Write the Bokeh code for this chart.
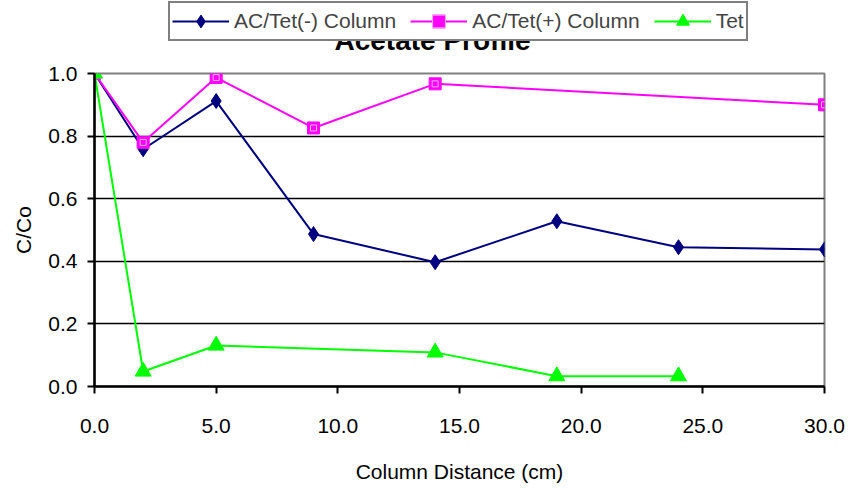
from bokeh.plotting import figure
from bokeh.layouts import column
from bokeh.models import Range1d, NumeralTickFormatter, Legend, LegendItem, Label, FixedTicker
from bokeh.embed import file_html
from bokeh.resources import INLINE

title_text = "Acetate Profile"
x_label = "Column Distance (cm)"
y_label = "C/Co"

names = ["AC/Tet(-) Column", "AC/Tet(+) Column", "Tet"]

x_minus = [0, 2, 5, 9, 14, 19, 24, 30]
y_minus = [1.0, 0.758, 0.912, 0.487, 0.397, 0.528, 0.445, 0.438]

x_plus = [0, 2, 5, 9, 14, 30]
y_plus = [1.0, 0.78, 0.987, 0.826, 0.967, 0.90]

x_tet = [0, 2, 5, 14, 19, 24]
y_tet = [1.0, 0.048, 0.131, 0.109, 0.033, 0.033]

x_ticks = [0, 5, 10, 15, 20, 25, 30]
y_ticks = [0.0, 0.2, 0.4, 0.6, 0.8, 1.0]

FONT = "Liberation Sans"
NAVY, MAGENTA, LIME = "#000080", "#FF00FF", "#00FF00"

HEAD_H = 60
W, H = 849, 488
LEFT, RIGHT = 94, 25


def add_series(fig):
    l1 = fig.line(x_minus, y_minus, line_color=NAVY, line_width=2)
    s1 = fig.scatter(x_minus, y_minus, marker="diamond", size=15, fill_color=NAVY, line_color=NAVY)
    l2 = fig.line(x_plus, y_plus, line_color=MAGENTA, line_width=2)
    s2 = fig.scatter(x_plus, y_plus, marker="square", size=12, fill_color=MAGENTA, line_color=MAGENTA)
    s2b = fig.scatter(x_plus, y_plus, marker="square", size=6, fill_color=None,
                      line_color="#FFB0FF", line_width=1)
    l3 = fig.line(x_tet, y_tet, line_color=LIME, line_width=2)
    s3 = fig.scatter(x_tet, y_tet, marker="triangle", size=16, fill_color=LIME, line_color=LIME)
    return [[l1, s1], [l2, s2, s2b], [l3, s3]]


# ---------------- main chart ----------------
p = figure(width=W, height=H - HEAD_H, output_backend="svg", toolbar_location=None,
           x_range=Range1d(0, 30), y_range=Range1d(0, 1.0),
           min_border_left=LEFT, min_border_right=RIGHT, min_border_top=13, min_border_bottom=102)

p.background_fill_color = "white"
p.border_fill_color = "white"
p.outline_line_color = "#808080"
p.outline_line_width = 2

p.xgrid.visible = False
p.ygrid.ticker = FixedTicker(ticks=y_ticks)
p.ygrid.grid_line_color = "black"
p.ygrid.grid_line_width = 1.5

for ax, ticks in ((p.xaxis[0], x_ticks), (p.yaxis[0], y_ticks)):
    ax.ticker = FixedTicker(ticks=ticks)
    ax.formatter = NumeralTickFormatter(format="0.0")
    ax.axis_line_color = "black"
    ax.axis_line_width = 2.5
    ax.major_tick_line_color = "black"
    ax.major_tick_line_width = 2
    ax.major_tick_in = 0
    ax.major_tick_out = 7
    ax.minor_tick_line_color = None
    ax.major_label_text_font = FONT
    ax.major_label_text_font_size = "21px"
    ax.major_label_text_color = "black"
    ax.axis_label_text_font = FONT
    ax.axis_label_text_font_size = "21px"
    ax.axis_label_text_font_style = "normal"
    ax.axis_label_text_color = "black"

xa = p.xaxis[0]
xa.axis_label = x_label
xa.major_label_standoff = 25
xa.axis_label_standoff = 24
ya = p.yaxis[0]
ya.axis_label = y_label
ya.major_label_standoff = 10
ya.axis_label_standoff = 10

add_series(p)

# ---------------- header with title and legend ----------------
# header frame is aligned with the main frame; its x data equal canvas pixels
h = figure(width=W, height=HEAD_H, output_backend="svg", toolbar_location=None,
           x_range=Range1d(LEFT, W - RIGHT), y_range=Range1d(0, HEAD_H),
           x_axis_location=None, y_axis_location=None,
           min_border_left=LEFT, min_border_right=RIGHT, min_border_top=0, min_border_bottom=0)
h.grid.visible = False
h.outline_line_color = None
h.background_fill_color = "white"
h.border_fill_color = "white"

# same series drawn in header coordinates fall outside its frame; used only for legend glyphs
hr = add_series(h)

title = Label(x=432, y=20, text=title_text, text_font=FONT, text_font_size="28px",
              text_font_style="bold", text_align="center", text_baseline="alphabetic", text_color="black")
h.add_layout(title)

legend = Legend(items=[LegendItem(label=names[0], renderers=hr[0]),
                       LegendItem(label=names[1], renderers=hr[1]),
                       LegendItem(label=names[2], renderers=hr[2])],
                orientation="horizontal", location=(168 - LEFT, HEAD_H - 41),
                label_text_font=FONT, label_text_font_size="21px", label_text_baseline="top",
                glyph_width=57, glyph_height=32, spacing=14, padding=2, margin=0,
                label_standoff=5,
                border_line_color="black", border_line_width=2.5,
                background_fill_color="white", background_fill_alpha=1.0)
h.add_layout(legend)

layout = column(h, p, spacing=0)
open("out.html", "w").write(file_html(layout, INLINE))
